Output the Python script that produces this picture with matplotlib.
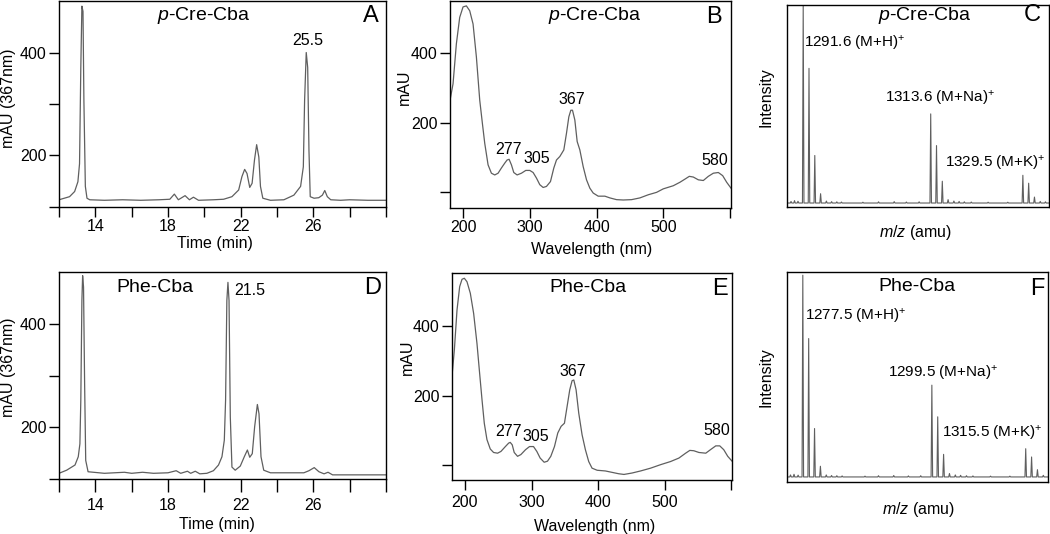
import numpy as np
import matplotlib
matplotlib.use('Agg')
import matplotlib.pyplot as plt

plt.rcParams['font.family'] = ['Liberation Sans', 'DejaVu Sans']
plt.rcParams['mathtext.fontset'] = 'custom'
plt.rcParams['mathtext.rm'] = 'Liberation Sans'
plt.rcParams['mathtext.it'] = 'Liberation Sans:italic'
plt.rcParams['font.size'] = 11

LINE_C = '#5f5f5f'
TICK_FS = 11.5
LABEL_FS = 11.5
TITLE_FS = 14
MS_FS = 11

# ================= DATA =================
# A: HPLC p-Cre-Cba (time min, mAU at 367 nm)
a_time = [12, 12.58, 12.86, 13.04, 13.13, 13.2, 13.26, 13.32, 13.37, 13.45, 13.54, 13.69,
          14.5, 15.5, 16.5, 17.5, 18.1, 18.35, 18.57, 18.94, 19.18, 19.4, 19.68, 20.5,
          21.06, 21.52, 21.89, 22.07, 22.22, 22.35, 22.5, 22.63, 22.76, 22.88, 23.0, 23.09,
          23.22, 23.64, 24.38, 24.93, 25.3, 25.45, 25.52, 25.61, 25.69, 25.76, 25.83, 26.04,
          26.3, 26.5, 26.63, 26.77, 26.96, 27.5, 28, 29, 30]
a_mau = [114, 120, 130, 149, 184, 371, 490, 480, 307, 140, 117, 114,
         113, 114, 113, 114, 115, 125, 114, 122, 114, 119, 113, 114,
         115, 120, 133, 159, 173, 165, 138, 146, 191, 221, 197, 140,
         117, 113, 114, 123, 140, 178, 307, 400, 371, 210, 120, 117,
         118, 123, 132, 120, 114, 113, 114, 113, 113]

# D: HPLC Phe-Cba
d_time = [12, 12.42, 12.88, 13.06, 13.15, 13.2, 13.26, 13.3, 13.35, 13.41, 13.47, 13.6,
          14.5, 15.6, 16.0, 16.6, 17.2, 18.0, 18.45, 18.7, 19.07, 19.25, 19.5, 19.75,
          20.14, 20.5, 20.78, 20.97, 21.1, 21.17, 21.24, 21.3, 21.36, 21.43, 21.52, 21.7,
          21.98, 22.2, 22.37, 22.5, 22.64, 22.77, 22.92, 23.01, 23.12, 23.27, 23.64, 25.48,
          25.76, 26.05, 26.31, 26.59, 26.81, 27.06, 28, 30]
d_mau = [111, 117, 127, 143, 168, 252, 445, 493, 471, 284, 136, 114,
         111, 113, 111, 113, 111, 112, 116, 111, 115, 111, 115, 110,
         111, 116, 127, 143, 175, 252, 445, 480, 445, 220, 123, 117,
         125, 143, 156, 142, 149, 201, 244, 226, 143, 117, 112, 112,
         116, 122, 114, 110, 113, 108, 108, 108]

# B: UV-Vis p-Cre-Cba (nm, mAU)
b_wl = [181, 185, 190, 195, 200, 205, 210, 215, 220, 225, 229, 232.5, 237.5, 242.5, 247.5,
        252.5, 257.5, 262.5, 266, 269, 272.5, 276, 281, 287.5, 294, 300, 305, 310, 315,
        320, 325, 331, 336, 340, 345, 351, 355, 358.5, 361.5, 364, 367.5, 371, 375, 380,
        385, 390, 395, 402.5, 412.5, 420, 430, 440, 452.5, 465, 477.5, 490, 500, 515,
        525, 532.5, 539, 545, 552.5, 560, 567.5, 575, 582.5, 589, 595, 601.5]
b_mau = [270, 312, 427, 503, 533, 536, 522, 484, 389, 265, 198, 141, 79, 55, 50,
         55, 70, 84, 93, 95, 79, 57, 50, 55, 63, 63, 57, 41, 22,
         14, 17, 31, 70, 93, 103, 122, 170, 217, 236, 236, 208, 146, 122, 74,
         36, 12, -2, -11, -11, -16, -21, -22, -21, -16, -7, 0, 10, 19,
         29, 38, 46, 44, 36, 34, 46, 55, 57, 48, 29, 12]

# E: UV-Vis Phe-Cba
e_wl = [180.4, 184, 188, 192, 195.5, 199, 203, 208, 213, 218, 222, 225.6, 229, 233, 238,
        243, 249, 254, 260.7, 265.7, 268, 271, 274, 279, 284, 291, 297, 303, 308, 313,
        319, 324, 329, 334.5, 339.5, 344.5, 349.5, 353.5, 357.5, 361, 363.6, 367, 371,
        376, 381, 386, 391, 398.7, 411, 421, 431, 439, 451, 464, 479, 494, 509, 521.6,
        531.7, 538, 544, 551.7, 562, 569, 577, 583, 589, 595, 602]
e_mau = [255, 331, 446, 513, 534, 537, 527, 494, 436, 350, 264, 188, 121, 74, 47,
         37, 35, 40, 54, 64, 66, 59, 37, 26, 31, 45, 54, 54, 40, 21,
         9, 12, 26, 54, 93, 112, 121, 169, 217, 243, 245, 217, 150,
         88, 45, 11, -8, -14, -16, -20, -24, -26, -22, -16, -8, 2, 11, 21,
         35, 43, 42, 37, 35, 45, 56, 56, 45, 26, 11]

# C / F: ESI-MS isotope peaks (m/z, relative intensity)
c_mz = [1291.6, 1292.6, 1293.6, 1294.6, 1313.6, 1314.6, 1315.6, 1316.6, 1329.5, 1330.5, 1331.5]
c_int = [100, 68, 24, 4.7, 45, 29, 11, 1.7, 14, 10, 3]
c_noise_mz = [1289.5, 1290.1, 1290.7, 1295.6, 1296.5, 1297.4, 1298.2, 1301.9, 1304.6,
              1307.3, 1309.4, 1311.6, 1317.6, 1318.5, 1319.4, 1320.6, 1323.5, 1326.9, 1332.5, 1333.4]
c_noise_int = [0.8, 1.2, 0.9, 1.0, 0.7, 0.6, 0.5, 0.4, 0.6, 0.7, 0.5, 0.6, 1.0, 0.8, 0.6,
               0.5, 0.4, 0.4, 0.8, 0.6]

f_mz = [1277.5, 1278.5, 1279.5, 1280.5, 1299.5, 1300.5, 1301.5, 1302.5, 1315.5, 1316.5, 1317.5]
f_int = [100, 68.6, 24, 5.3, 45.5, 29.8, 11.2, 1.7, 14, 9.9, 3.6]
f_noise_mz = [1275.4, 1276.0, 1276.7, 1281.5, 1282.4, 1283.3, 1284.2, 1288.1, 1290.4,
              1293.0, 1295.5, 1297.6, 1303.5, 1304.4, 1305.4, 1306.5, 1309.5, 1312.8, 1318.5]
f_noise_int = [1.0, 1.3, 0.9, 1.0, 0.7, 0.6, 0.5, 0.4, 0.6, 0.7, 0.5, 0.6, 1.0, 0.8, 0.6,
               0.5, 0.4, 0.4, 0.8]

chrom_ticks = list(range(12, 31, 2))
chrom_labels = [str(x) if x % 4 == 2 and x < 30 else '' for x in chrom_ticks]


def ms_trace(mz, inten, noise_mz, noise_int, lo, hi, half=0.13):
    # stick spectrum drawn as narrow triangles on a baseline
    pk = sorted(list(zip(mz, inten)) + list(zip(noise_mz, noise_int)))
    xs, ys = [lo], [0]
    for m, h in pk:
        xs += [m - half, m, m + half]
        ys += [0, h, 0]
    xs.append(hi)
    ys.append(0)
    return xs, ys


def style_box(ax):
    for s in ax.spines.values():
        s.set_linewidth(1.0)
        s.set_color('black')


fig = plt.figure(figsize=(10.5, 5.34), dpi=100)

# positions in figure fraction (left, bottom, width, height)
ax_a = fig.add_axes([0.0562, 0.6124, 0.3114, 0.3857])
ax_b = fig.add_axes([0.4286, 0.6105, 0.2676, 0.3876])
ax_c = fig.add_axes([0.7495, 0.6124, 0.2495, 0.3783])
ax_d = fig.add_axes([0.0562, 0.1030, 0.3114, 0.3876])
ax_e = fig.add_axes([0.4305, 0.1011, 0.2667, 0.3876])
ax_f = fig.add_axes([0.7495, 0.0974, 0.2486, 0.3933])

# ---- chromatograms ----
for ax, t, v, pad, tlen in [(ax_a, a_time, a_mau, 1.5, 7), (ax_d, d_time, d_mau, 5, 9)]:
    ax.plot(t, v, color=LINE_C, lw=0.9)
    ax.set_xlim(12, 30)
    ax.set_ylim(100, 500)
    ax.set_xticks(chrom_ticks)
    ax.set_xticklabels(chrom_labels)
    ax.set_yticks([100, 200, 300, 400])
    ax.set_yticklabels(['', '200', '', '400'])
    ax.tick_params(axis='x', direction='out', length=tlen, width=1.0, pad=pad, labelsize=TICK_FS)
    ax.tick_params(axis='y', direction='out', length=7, width=1.0, pad=2, labelsize=TICK_FS)
    ax.set_xlabel('Time (min)', fontsize=LABEL_FS)
    ax.set_ylabel('mAU (367nm)', fontsize=LABEL_FS)
    style_box(ax)

ax_a.xaxis.set_label_coords(0.477, -0.14)
ax_a.yaxis.set_label_coords(-0.131, 0.529)
ax_d.xaxis.set_label_coords(0.482, -0.183)
ax_d.yaxis.set_label_coords(-0.131, 0.538)

ax_a.text(19.95, 471, '$p$-Cre-Cba', fontsize=TITLE_FS, ha='center', va='center')
ax_a.text(25.67, 424, '25.5', fontsize=TICK_FS, ha='center', va='center')
ax_d.text(17.28, 471, 'Phe-Cba', fontsize=TITLE_FS, ha='center', va='center')
ax_d.text(21.65, 464, '21.5', fontsize=TICK_FS, ha='left', va='center')

# ---- UV-Vis spectra ----
for ax, wl, v, ylo, yhi, pad in [(ax_b, b_wl, b_mau, -45, 550, 2), (ax_e, e_wl, e_mau, -42, 552, 4)]:
    ax.plot(wl, v, color=LINE_C, lw=0.9)
    ax.set_xlim(180.5, 601.5)
    ax.set_ylim(ylo, yhi)
    ax.set_xticks([200, 300, 400, 500, 600])
    ax.set_xticklabels(['200', '300', '400', '500', ''])
    ax.set_yticks([0, 200, 400])
    ax.set_yticklabels(['', '200', '400'])
    ax.tick_params(axis='x', direction='out', length=7, width=1.0, pad=pad, labelsize=TICK_FS)
    ax.tick_params(axis='y', direction='out', length=7, width=1.0, pad=2, labelsize=TICK_FS)
    ax.set_xlabel('Wavelength (nm)', fontsize=LABEL_FS)
    ax.set_ylabel('mAU', fontsize=LABEL_FS)
    style_box(ax)

ax_b.xaxis.set_label_coords(0.504, -0.162)
ax_b.yaxis.set_label_coords(-0.135, 0.582)
ax_e.xaxis.set_label_coords(0.511, -0.187)
ax_e.yaxis.set_label_coords(-0.132, 0.594)

ax_b.text(0.516, 0.928, '$p$-Cre-Cba', transform=ax_b.transAxes, fontsize=TITLE_FS, ha='center', va='center')
ax_e.text(0.485, 0.932, 'Phe-Cba', transform=ax_e.transAxes, fontsize=TITLE_FS, ha='center', va='center')
for ax, pos in [(ax_b, [(267.5, 124), (310, 98), (363.5, 268), (577.5, 91)]),
                (ax_e, [(264.7, 97), (305.9, 83), (362, 269), (578, 100)])]:
    for lab, (x, y) in zip(['277', '305', '367', '580'], pos):
        ax.text(x, y, lab, fontsize=TICK_FS, ha='center', va='center')

# ---- mass spectra ----
for ax, mz, it, nmz, nit, lo, hi, ylo, yhi in [
        (ax_c, c_mz, c_int, c_noise_mz, c_noise_int, 1288.8, 1334.0, -2, 100),
        (ax_f, f_mz, f_int, f_noise_mz, f_noise_int, 1274.8, 1319.3, -2.5, 101.6)]:
    xs, ys = ms_trace(mz, it, nmz, nit, lo, hi)
    ax.plot(xs, ys, color=LINE_C, lw=0.8)
    ax.set_xlim(lo, hi)
    ax.set_ylim(ylo, yhi)
    ax.set_xticks([])
    ax.set_yticks([])
    ax.set_xlabel('$m/z$ (amu)', fontsize=LABEL_FS)
    ax.set_ylabel('Intensity', fontsize=LABEL_FS)
    style_box(ax)

ax_c.xaxis.set_label_coords(0.489, -0.079)
ax_c.yaxis.set_label_coords(-0.05, 0.546)
ax_f.xaxis.set_label_coords(0.503, -0.086)
ax_f.yaxis.set_label_coords(-0.05, 0.497)

ax_c.text(0.527, 0.95, '$p$-Cre-Cba', transform=ax_c.transAxes, fontsize=TITLE_FS, ha='center', va='center')
ax_f.text(0.498, 0.929, 'Phe-Cba', transform=ax_f.transAxes, fontsize=TITLE_FS, ha='center', va='center')

ax_c.text(1291.7, 80.7, '1291.6 (M+H)$^{+}$', fontsize=MS_FS, ha='left', va='center')
ax_c.text(1305.7, 53, '1313.6 (M+Na)$^{+}$', fontsize=MS_FS, ha='left', va='center')
ax_c.text(1316.1, 20.2, '1329.5 (M+K)$^{+}$', fontsize=MS_FS, ha='left', va='center')
ax_f.text(1277.95, 79.7, '1277.5 (M+H)$^{+}$', fontsize=MS_FS, ha='left', va='center')
ax_f.text(1292.1, 51.2, '1299.5 (M+Na)$^{+}$', fontsize=MS_FS, ha='left', va='center')
ax_f.text(1301.3, 21.5, '1315.5 (M+K)$^{+}$', fontsize=MS_FS, ha='left', va='center')

# ---- panel letters ----
for ax, letter, (fx, fy) in [(ax_a, 'A', (0.953, 0.927)), (ax_b, 'B', (0.941, 0.925)),
                             (ax_c, 'C', (0.937, 0.948)), (ax_d, 'D', (0.959, 0.923)),
                             (ax_e, 'E', (0.957, 0.925)), (ax_f, 'F', (0.958, 0.921))]:
    ax.text(fx, fy, letter, transform=ax.transAxes, fontsize=17, ha='center', va='center')

fig.savefig('out.png', dpi=100)
